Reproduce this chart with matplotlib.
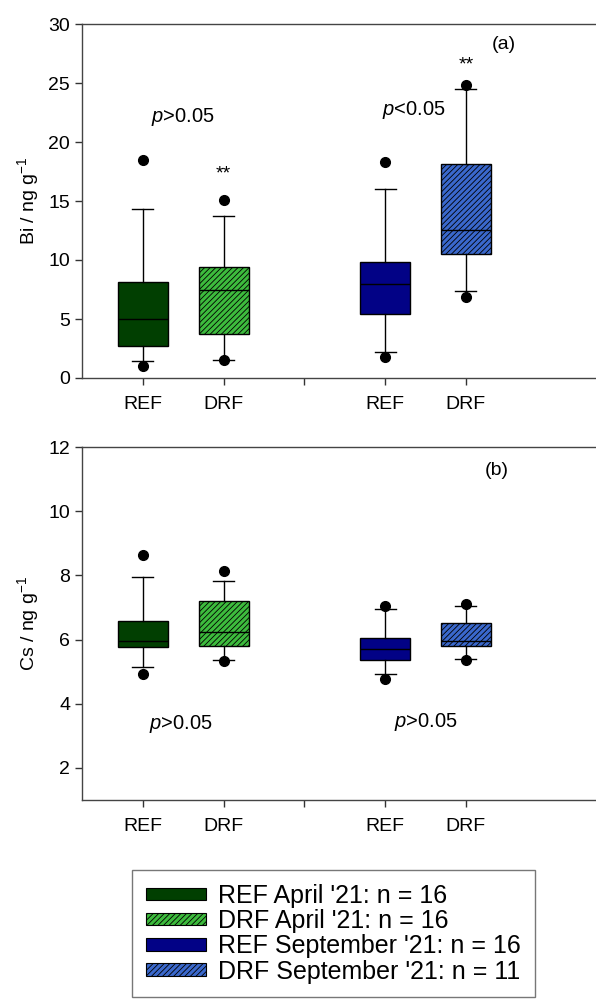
import matplotlib.pyplot as plt
from matplotlib.patches import Patch

plt.rcParams["font.family"] = ["Liberation Sans", "DejaVu Sans"]
plt.rcParams["mathtext.fontset"] = "custom"
plt.rcParams["mathtext.rm"] = "Liberation Sans"
plt.rcParams["mathtext.it"] = "Liberation Sans:italic"
plt.rcParams["hatch.linewidth"] = 0.6

groups = ["REF April '21", "DRF April '21", "REF September '21", "DRF September '21"]
n_samples = [16, 16, 16, 11]
positions = [1, 2, 4, 5]
tick_pos = [1, 2, 3, 4, 5]
tick_labels = ["REF", "DRF", "", "REF", "DRF"]
colors = ["#013f01", "#3dbb3d", "#020286", "#3a68cc"]
hatches = [None, "//////", None, "//////"]

# Bi (panel a)
bi_q1 = [2.74, 3.73, 5.42, 10.5]
bi_med = [5.0, 7.5, 7.94, 12.54]
bi_q3 = [8.1, 9.38, 9.8, 18.16]
bi_lo = [1.44, 1.53, 2.18, 7.34]
bi_hi = [14.3, 13.7, 16.05, 24.46]
bi_fliers = [[18.5, 1.05], [15.1, 1.5], [18.3, 1.8], [24.8, 6.86]]

# Cs (panel b)
cs_q1 = [5.77, 5.8, 5.37, 5.81]
cs_med = [5.97, 6.23, 5.7, 5.97]
cs_q3 = [6.57, 7.2, 6.04, 6.51]
cs_lo = [5.14, 5.35, 4.92, 5.39]
cs_hi = [7.94, 7.81, 6.95, 7.06]
cs_fliers = [[8.63, 4.93], [8.13, 5.33], [7.06, 4.78], [7.1, 5.37]]

FS = 14
LEG_FS = 18


def make_stats(q1, med, q3, lo, hi, fliers):
    return [
        {"q1": q1[i], "med": med[i], "q3": q3[i], "whislo": lo[i], "whishi": hi[i], "fliers": fliers[i]}
        for i in range(len(q1))
    ]


def draw_panel(ax, stats, ylim, yticks, ylabel):
    bp = ax.bxp(
        stats,
        positions=positions,
        widths=0.62,
        capwidths=0.26,
        patch_artist=True,
        showfliers=True,
        boxprops=dict(linewidth=1.0, edgecolor="black"),
        medianprops=dict(color="black", linewidth=1.0),
        whiskerprops=dict(color="black", linewidth=1.0),
        capprops=dict(color="black", linewidth=1.0),
        flierprops=dict(marker="o", markerfacecolor="black", markeredgecolor="black", markersize=7),
    )
    for box, c, h in zip(bp["boxes"], colors, hatches):
        box.set_facecolor(c)
        if h:
            box.set_hatch(h)
    ax.set_xlim(0.245, 6.71)
    ax.set_ylim(*ylim)
    ax.set_yticks(yticks)
    ax.set_xticks(tick_pos)
    ax.set_xticklabels(tick_labels)
    ax.tick_params(axis="both", labelsize=FS, length=5, width=1, color="#333333", direction="out")
    ax.tick_params(axis="x", pad=8)
    ax.set_ylabel(ylabel, fontsize=FS, labelpad=5)
    for s in ax.spines.values():
        s.set_linewidth(1.0)
        s.set_color("#444444")


fig = plt.figure(figsize=(5.96, 10.06), dpi=100)
ax1 = fig.add_axes([82 / 596, 1 - 378 / 1006, 522 / 596, 354 / 1006])
ax2 = fig.add_axes([82 / 596, 1 - 800 / 1006, 522 / 596, 353 / 1006])

draw_panel(ax1, make_stats(bi_q1, bi_med, bi_q3, bi_lo, bi_hi, bi_fliers),
           (0, 30), range(0, 31, 5), "Bi / ng g$^{-1}$")
draw_panel(ax2, make_stats(cs_q1, cs_med, cs_q3, cs_lo, cs_hi, cs_fliers),
           (1, 12), range(2, 13, 2), "Cs / ng g$^{-1}$")

ax1.text(1.5, 22.1, "$\\it{p}$>0.05", fontsize=14.5, ha="center", va="center")
ax1.text(4.35, 22.7, "$\\it{p}$<0.05", fontsize=14.5, ha="center", va="center")
ax1.text(2.0, 17.3, "**", fontsize=FS, ha="center", va="center")
ax1.text(5.0, 26.5, "**", fontsize=FS, ha="center", va="center")
ax1.text(5.47, 28.3, "(a)", fontsize=FS, ha="center", va="center")

ax2.text(1.47, 3.38, "$\\it{p}$>0.05", fontsize=14.5, ha="center", va="center")
ax2.text(4.5, 3.42, "$\\it{p}$>0.05", fontsize=14.5, ha="center", va="center")
ax2.text(5.38, 11.27, "(b)", fontsize=FS, ha="center", va="center")

handles = [
    Patch(facecolor=c, edgecolor="black", hatch=h, linewidth=0.8)
    for c, h in zip(colors, hatches)
]
labels = [f"{g}: n = {n}" for g, n in zip(groups, n_samples)]
leg = fig.legend(
    handles, labels,
    loc="upper left",
    bbox_to_anchor=(132 / 596, 1 - 870 / 1006),
    fontsize=LEG_FS,
    frameon=True,
    fancybox=False,
    edgecolor="#555555",
    handlelength=2.4,
    handleheight=0.4,
    handletextpad=0.5,
    labelspacing=0.05,
    borderpad=0.55,
    borderaxespad=0,
)
leg.get_frame().set_linewidth(1.0)

plt.savefig("out.png", dpi=100)
